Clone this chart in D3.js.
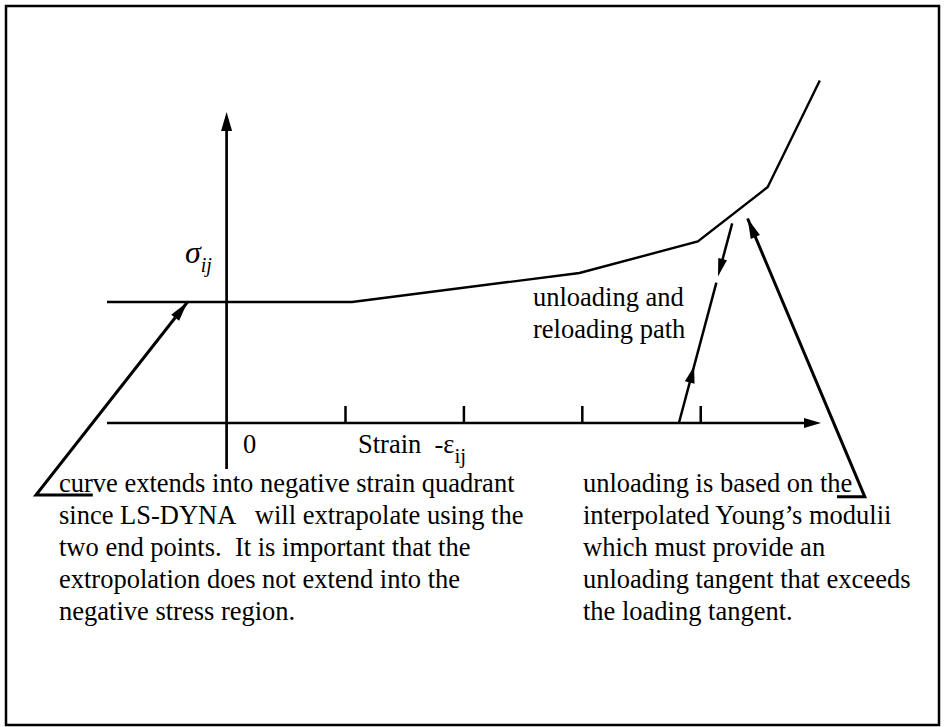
<!DOCTYPE html>
<html>
<head>
<meta charset="utf-8">
<script src="https://cdn.jsdelivr.net/npm/d3@7"></script>
<style>
  body { margin:0; background:#fff; }
  svg text { fill:#000; white-space: pre; }
</style>
</head>
<body>
<div id="chart"></div>
<script>
// stress-strain curve (strain in tick units, stress relative to the flat level)
var strain = [-1.01, 1.06, 2.98, 3.98, 4.57, 5.01];
var stress = [1.00, 1.00, 1.24, 1.50, 1.95, 2.83];
var strainTicks = [1, 2, 3, 4];
var xExtent = [-1.01, 5.02];
var yExtent = [-0.38, 2.57];

// unloading / reloading path
var unloadStrain = [3.82, 4.27];
var unloadStress = [0, 1.65];
var gapStress = [1.16, 1.21];
var reloadArrowStress = 0.47;

// leader lines: [strain, stress] from text corner to arrow tip
var leftLeader = [[-1.61, -0.595], [-0.33, 1.0]];
var leftUnderlineEnd = -1.13;
var rightLeader = [[5.39, -0.61], [4.40, 1.69]];
var rightUnderlineEnd = 5.155;

var leftNote = [
  "curve extends into negative strain quadrant",
  "since LS-DYNA   will extrapolate using the",
  "two end points.  It is important that the",
  "extropolation does not extend into the",
  "negative stress region."
];
var rightNote = [
  "unloading is based on the",
  "interpolated Young\u2019s modulii",
  "which must provide an",
  "unloading tangent that exceeds",
  "the loading tangent."
];
var pathNote = ["unloading and", "reloading path"];

var W = 945, H = 727;
var svg = d3.select("#chart").append("svg")
  .attr("width", W).attr("height", H)
  .attr("font-family", "'Liberation Serif', 'Times New Roman', serif");

// frame
svg.append("rect")
  .attr("x", 6).attr("y", 6)
  .attr("width", 933).attr("height", 719)
  .attr("fill", "none").attr("stroke", "#000").attr("stroke-width", 2.5);

var x = d3.scaleLinear().domain(xExtent).range([107, 821]);
var y = d3.scaleLinear().domain([0, 1]).range([423, 302]);

function arrowHead(tip, from, len, hw){
  var dx = tip[0] - from[0], dy = tip[1] - from[1];
  var d = Math.sqrt(dx*dx + dy*dy);
  var ux = dx/d, uy = dy/d;
  var bx = tip[0] - ux*len, by = tip[1] - uy*len;
  var pts = [tip, [bx - uy*hw, by + ux*hw], [bx + uy*hw, by - ux*hw]];
  svg.append("path")
    .attr("d", "M" + pts.join("L") + "Z")
    .attr("fill", "#000");
}

// x axis
svg.append("line")
  .attr("x1", x(xExtent[0])).attr("x2", x(xExtent[1]) - 10)
  .attr("y1", y(0)).attr("y2", y(0))
  .attr("stroke", "#000").attr("stroke-width", 2.7);
arrowHead([x(xExtent[1]), y(0)], [x(0), y(0)], 17, 5);

var xAxis = svg.append("g")
  .attr("transform", "translate(0," + y(0) + ")")
  .call(d3.axisTop(x).tickValues(strainTicks).tickSize(17).tickSizeOuter(0).tickFormat(""));
xAxis.select(".domain").remove();
xAxis.selectAll(".tick line").attr("stroke", "#000").attr("stroke-width", 2.5);

// y axis
svg.append("line")
  .attr("x1", x(0)).attr("x2", x(0))
  .attr("y1", y(yExtent[0])).attr("y2", y(yExtent[1]) + 12)
  .attr("stroke", "#000").attr("stroke-width", 2.7);
arrowHead([x(0), y(yExtent[1])], [x(0), y(0)], 19, 5.5);

// curve
var pts = strain.map(function(s, i){ return [x(s), y(stress[i])]; });
svg.append("path")
  .attr("d", d3.line()(pts))
  .attr("fill", "none").attr("stroke", "#000").attr("stroke-width", 2.4);

// unloading / reloading path
function unloadAt(st){
  var t = (st - unloadStress[0]) / (unloadStress[1] - unloadStress[0]);
  return [x(unloadStrain[0] + t*(unloadStrain[1] - unloadStrain[0])), y(st)];
}
var pBot = unloadAt(unloadStress[0]), pTop = unloadAt(unloadStress[1]);
var pG1 = unloadAt(gapStress[0]), pG2 = unloadAt(gapStress[1]);
svg.append("path")
  .attr("d", d3.line()([pBot, pG1]))
  .attr("stroke", "#000").attr("stroke-width", 2.5);
svg.append("path")
  .attr("d", d3.line()([pTop, unloadAt(gapStress[1] + 0.1)]))
  .attr("stroke", "#000").attr("stroke-width", 2.5);
arrowHead(pG2, pTop, 18, 4.5);
arrowHead(unloadAt(reloadArrowStress), pBot, 17, 5);

// leader lines
function leader(pair, uEnd){
  var a = [x(pair[0][0]), y(pair[0][1])], b = [x(pair[1][0]), y(pair[1][1])];
  var u = [x(uEnd), a[1]];
  svg.append("path")
    .attr("d", d3.line()([u, a, b]))
    .attr("fill", "none").attr("stroke", "#000").attr("stroke-width", 3)
    .attr("stroke-linejoin", "miter");
  arrowHead(b, a, 20, 5);
}
leader(leftLeader, leftUnderlineEnd);
leader(rightLeader, rightUnderlineEnd);

// labels
var fs = 26.5;
function lines(arr, x0, y0, dy){
  svg.append("g").selectAll("text").data(arr).enter().append("text")
    .attr("x", x0).attr("y", function(d, i){ return y0 + i*dy; })
    .style("font-size", fs + "px")
    .text(function(d){ return d; });
}
lines(leftNote, 59, 492, 32);
lines(rightNote, 583, 492, 32);
lines(pathNote, 533, 306, 31.5);

// axis labels
svg.append("text").attr("x", 243).attr("y", 453).style("font-size", fs + "px").text("0");
var sl = svg.append("text").attr("x", 358).attr("y", 453).style("font-size", fs + "px");
sl.append("tspan").text("Strain  -\u03b5");
sl.append("tspan").attr("dy", 10).style("font-size", "21px").text("ij");

var sg = svg.append("text").attr("x", 185).attr("y", 263).style("font-style", "italic");
sg.append("tspan").style("font-size", "32px").text("\u03c3");
sg.append("tspan").attr("dy", 9).style("font-size", "20px").text("ij");
</script>
</body>
</html>
